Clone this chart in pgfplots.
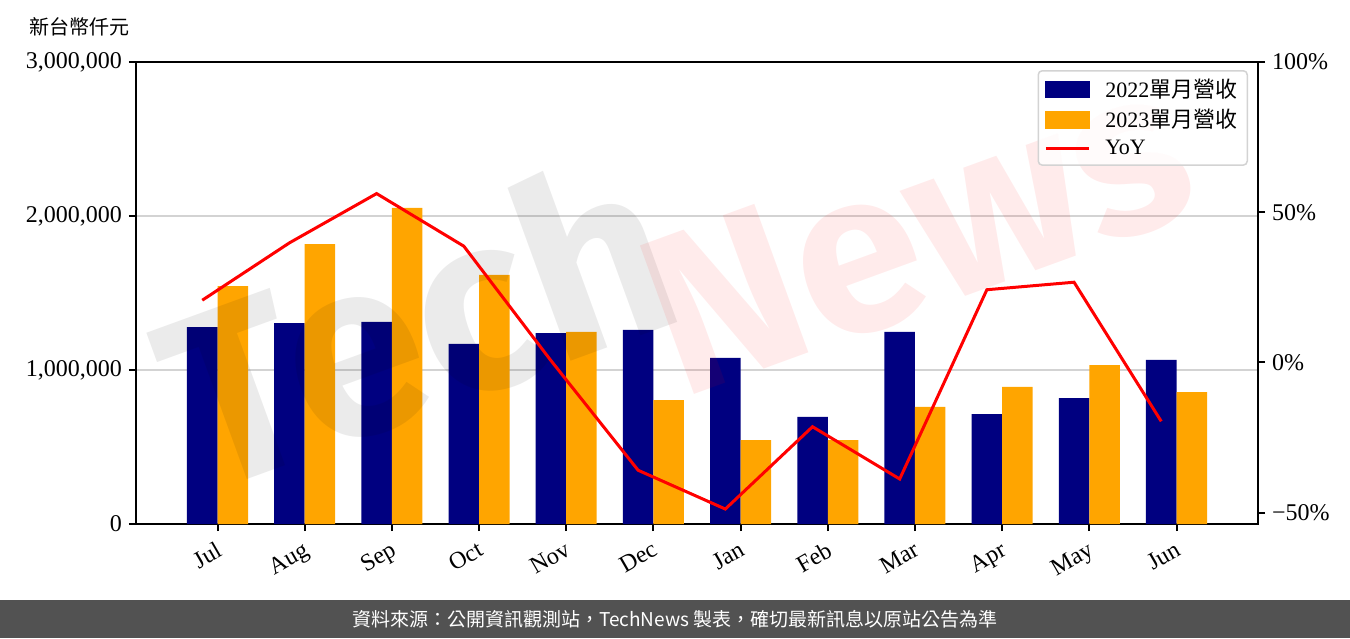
\documentclass[border=0pt]{standalone}
\usepackage{fontspec}
\setmainfont{Liberation Serif}
\newfontfamily\cjk{Noto Sans CJK TC}
\newfontfamily\wmfont{Fira Sans}
\usepackage{pgfplots}
\usepackage{pgfplotstable}
\pgfplotsset{compat=1.18}

\definecolor{navy}{HTML}{000080}
\definecolor{barorange}{HTML}{FFA500}
\definecolor{gridgray}{HTML}{D3D3D3}
\definecolor{banner}{HTML}{525252}

% monthly revenue (NT$ thousand) and YoY (%)
\pgfplotstableread{
idx xl     rev22   rev23   yoy
0   -0.175 1279000 1545000 20.7
1   0.825  1305000 1818000 39.8
2   1.825  1312000 2052000 56.2
3   2.825  1169000 1617000 38.7
4   3.825  1240000 1247000 0.6
5   4.825  1260000 805000  -35.9
6   5.825  1078000 545000  -48.8
7   6.825  695000  545000  -21.4
8   7.825  1247000 760000  -38.8
9   8.825  714000  890000  24.2
10  9.825  818000  1032000 26.7
11  10.825 1065000 857000  -19.6
}\revdata

\begin{document}
\begin{tikzpicture}
\pgfplotsset{
  every axis/.append style={
    at={(0,0)}, anchor=south west,
    scale only axis, width=561pt, height=231pt,
    xmin=-0.935, xmax=11.935,
    tick align=outside, major tick length=3.5pt,
    axis line style={line width=1pt},
    tick style={line width=1pt, black},
    tick label style={font=\fontsize{12}{14}\selectfont},
  },
}
\begin{axis}[
  ymin=0, ymax=3000000,
  xtick pos=lower, ytick pos=left,
  xtick={0,...,11},
  xticklabels={Jul,Aug,Sep,Oct,Nov,Dec,Jan,Feb,Mar,Apr,May,Jun},
  xticklabel style={rotate=30, anchor=north east, font=\fontsize{12}{14}\selectfont},
  ytick={0,1000000,2000000,3000000},
  yticklabels={0,{1,000,000},{2,000,000},{3,000,000}},
  scaled y ticks=false,
  ymajorgrids, grid style={gridgray, line width=0.75pt},
]
  \addplot[ybar, bar width=0.35, bar shift=-0.175, fill=navy, draw=none]
    table[x=idx, y=rev22]{\revdata};
  \addplot[ybar, bar width=0.35, bar shift=0.175, fill=barorange, draw=none]
    table[x=idx, y=rev23]{\revdata};
\end{axis}

% watermark, translucent over the bars
\node[rotate=20, text opacity=0.08, text=black,
  font=\wmfont\bfseries\fontsize{124}{124}\selectfont, inner sep=0pt]
  at (140pt,102pt) {Tech};
\node[rotate=20, text opacity=0.08, text=red,
  font=\wmfont\bfseries\fontsize{114}{114}\selectfont, inner sep=0pt]
  at (390pt,146pt) {News};

\begin{axis}[
  ymin=-53.78, ymax=100,
  axis x line=none, axis y line*=right,
  ytick={-50,0,50,100},
  yticklabels={−50\%,0\%,50\%,100\%},
  legend style={at={(1,1)}, anchor=north east, xshift=-5pt, yshift=-4pt,
    draw=gridgray, rounded corners=2pt, line width=0.75pt,
    fill=white, fill opacity=0.8, text opacity=1,
    font=\fontsize{11}{13}\selectfont, cells={anchor=west},
    inner xsep=3pt, inner ysep=2pt, row sep=0.5pt},
  /tikz/every odd column/.append style={column sep=5.5pt},
]
  \addlegendimage{legend image code/.code={\fill[navy, fill opacity=1, sharp corners] (0pt,-4pt) rectangle (21.5pt,4pt);}}
  \addlegendimage{legend image code/.code={\fill[barorange, fill opacity=1, sharp corners] (0pt,-4pt) rectangle (21.5pt,4pt);}}
  \addplot[red, line width=1.5pt, mark=none,
    legend image code/.code={\draw[red, line width=1.5pt, sharp corners] (0pt,0pt) -- (21.5pt,0pt);}]
    table[x=xl, y=yoy]{\revdata};
  \legend{2022{\cjk 單月營收},2023{\cjk 單月營收},YoY}
\end{axis}

\node[font=\cjk\fontsize{10}{12}\selectfont] at (-28pt,248.5pt) {新台幣仟元};
\fill[banner] (-68pt,-57pt) rectangle (607pt,-38pt);
\node[white, font=\cjk\fontsize{9.5}{11}\selectfont] at (269.5pt,-47.5pt)
  {資料來源：公開資訊觀測站，TechNews 製表，確切最新訊息以原站公告為準};

\pgfresetboundingbox
\path (-68pt,-57pt) rectangle (607pt,262pt);
\end{tikzpicture}
\end{document}
